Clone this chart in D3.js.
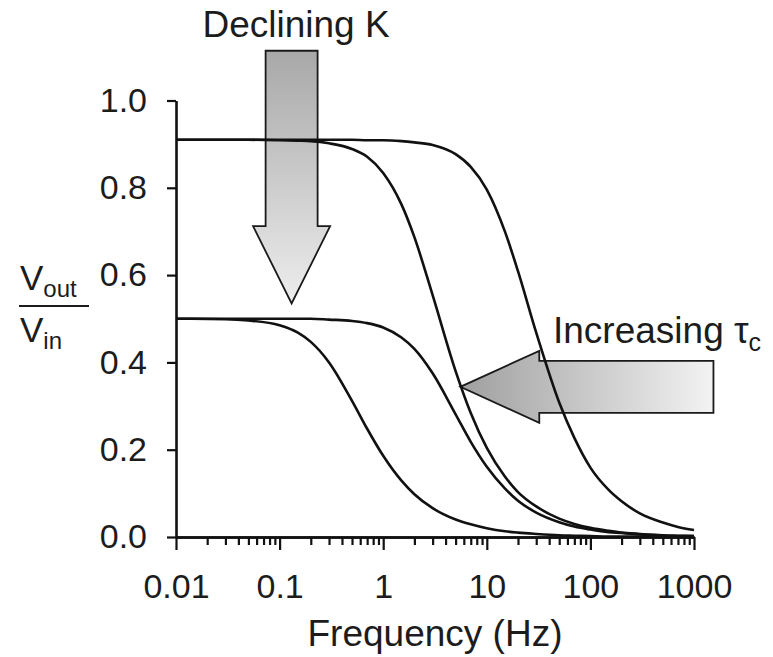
<!DOCTYPE html>
<html>
<head>
  <meta charset="utf-8"/>
  <title>Vout/Vin vs frequency</title>
  <style>
    body { margin: 0; background: #fff; }
    svg text { font-family: "Liberation Sans", Arial, sans-serif; fill: #1c1c1c; }
  </style>
</head>
<body>
    <div id="graph"></div>
</body>
<script src="https://d3js.org/d3.v7.min.js"></script>

<script>
    var freqs = [0.01, 0.03, 0.05, 0.1, 0.15, 0.2, 0.3, 0.5, 0.7, 1, 1.5, 2, 3, 5, 7,
                 10, 15, 20, 30, 50, 70, 100, 150, 200, 300, 500, 700, 1000];
    // K high, shortest tau (rightmost curve)
    var highK_short = [0.910, 0.910, 0.910, 0.910, 0.910, 0.910, 0.910, 0.910, 0.909, 0.909, 0.907, 0.904, 0.898, 0.877, 0.848,
                       0.796, 0.699, 0.609, 0.468, 0.308, 0.227, 0.159, 0.108, 0.082, 0.054, 0.033, 0.023, 0.016];
    // K high, longer tau
    var highK_long = [0.910, 0.910, 0.910, 0.909, 0.908, 0.907, 0.902, 0.889, 0.871, 0.834, 0.762, 0.687, 0.554, 0.380, 0.284,
                      0.204, 0.138, 0.103, 0.070, 0.042, 0.030, 0.021, 0.014, 0.010, 0.007, 0.004, 0.003, 0.002];
    // K low, shorter tau
    var lowK_short = [0.500, 0.500, 0.500, 0.500, 0.500, 0.500, 0.498, 0.495, 0.490, 0.480, 0.457, 0.431, 0.375, 0.281, 0.218,
                      0.161, 0.111, 0.083, 0.056, 0.034, 0.024, 0.017, 0.011, 0.009, 0.006, 0.003, 0.002, 0.002];
    // K low, longest tau (leftmost curve)
    var lowK_long = [0.500, 0.499, 0.496, 0.485, 0.468, 0.447, 0.400, 0.312, 0.248, 0.186, 0.129, 0.098, 0.066, 0.040, 0.029,
                     0.020, 0.013, 0.010, 0.007, 0.004, 0.003, 0.002, 0.001, 0.001, 0.001, 0.000, 0.000, 0.000];
    var seriesList = [highK_short, highK_long, lowK_short, lowK_long];

    var xTicks = [0.01, 0.1, 1, 10, 100, 1000];
    var xTickLabels = ["0.01", "0.1", "1", "10", "100", "1000"];
    var yTicks = [0, 0.2, 0.4, 0.6, 0.8, 1.0];

    var margin = {top: 100.5, right: 79, bottom: 120, left: 176},
        width = 773 - margin.left - margin.right,
        height = 657 - margin.top - margin.bottom;

    var x = d3.scaleLog().domain([0.01, 1000]).range([0, width]);
    var y = d3.scaleLinear().domain([0, 1]).range([height, 0]);

    var svg = d3.select("#graph").append("svg")
                .attr("width", 773)
                .attr("height", 657);
    var defs = svg.append("defs");
    var g = svg.append("g")
               .attr("transform", "translate(" + margin.left + "," + margin.top + ")");

    var gradDown = defs.append("linearGradient").attr("id", "gradDown")
        .attr("x1", 0).attr("y1", 0).attr("x2", 0).attr("y2", 1);
    gradDown.append("stop").attr("offset", "0%").attr("stop-color", "#a8a8a8");
    gradDown.append("stop").attr("offset", "100%").attr("stop-color", "#ededed");
    var gradLeft = defs.append("linearGradient").attr("id", "gradLeft")
        .attr("x1", 0).attr("y1", 0).attr("x2", 1).attr("y2", 0);
    gradLeft.append("stop").attr("offset", "0%").attr("stop-color", "#9f9f9f");
    gradLeft.append("stop").attr("offset", "100%").attr("stop-color", "#f3f3f3");

    // annotation arrows, anchored in data units
    var kArrow = {f: 0.1306, top: 1.114, neck: 0.712, tip: 0.535, shaft: 26, head: 38.5};
    var tauArrow = {tip: 5.55, neck: 32.1, tail: 1541, v: 0.344, shaft: 26, head: 36};

    var cx = x(kArrow.f);
    g.append("path")
        .attr("d", "M" + (cx - kArrow.shaft) + "," + y(kArrow.top) +
                   "H" + (cx + kArrow.shaft) + "V" + y(kArrow.neck) +
                   "H" + (cx + kArrow.head) + "L" + cx + "," + y(kArrow.tip) +
                   "L" + (cx - kArrow.head) + "," + y(kArrow.neck) +
                   "H" + (cx - kArrow.shaft) + "Z")
        .attr("fill", "url(#gradDown)")
        .attr("stroke", "#1a1a1a")
        .attr("stroke-width", 1.8)
        .attr("stroke-linejoin", "miter");

    var cy = y(tauArrow.v);
    g.append("path")
        .attr("d", "M" + x(tauArrow.tail) + "," + (cy - tauArrow.shaft) +
                   "H" + x(tauArrow.neck) + "V" + (cy - tauArrow.head) +
                   "L" + x(tauArrow.tip) + "," + cy +
                   "L" + x(tauArrow.neck) + "," + (cy + tauArrow.head) +
                   "V" + (cy + tauArrow.shaft) + "H" + x(tauArrow.tail) + "Z")
        .attr("fill", "url(#gradLeft)")
        .attr("stroke", "#1a1a1a")
        .attr("stroke-width", 1.8);

    // curves
    var line = d3.line()
        .x(function(d) { return x(d[0]); })
        .y(function(d) { return y(d[1]); })
        .curve(d3.curveMonotoneX);

    g.selectAll(".curve").data(seriesList).enter().append("path")
        .attr("class", "curve")
        .attr("d", function(vals) { return line(freqs.map(function(f, i) { return [f, vals[i]]; })); })
        .attr("fill", "none")
        .attr("stroke", "#111")
        .attr("stroke-width", 2.6);

    // axes
    var minor = [];
    xTicks.slice(0, -1).forEach(function(t) {
        for (var k = 2; k <= 9; k++) minor.push(t * k);
    });

    var xMinor = g.append("g").attr("transform", "translate(0," + height + ")")
        .call(d3.axisBottom(x).tickValues(minor).tickSize(8).tickSizeOuter(0).tickFormat(""));
    var xAxis = g.append("g").attr("transform", "translate(0," + height + ")")
        .call(d3.axisBottom(x).tickValues(xTicks).tickSize(13).tickSizeOuter(0).tickPadding(24)
              .tickFormat(function(d, i) { return xTickLabels[i]; }));
    var yAxis = g.append("g")
        .call(d3.axisLeft(y).tickValues(yTicks).tickSize(9).tickSizeOuter(0).tickPadding(20)
              .tickFormat(d3.format(".1f")));

    [xMinor, xAxis, yAxis].forEach(function(a) {
        a.select(".domain").attr("stroke", "#111").attr("stroke-width", 2.6);
        a.selectAll(".tick line").attr("stroke", "#111").attr("stroke-width", 2.2);
        a.selectAll("text").attr("font-size", 34).attr("fill", "#1c1c1c")
            .style("font-family", "'Liberation Sans', Arial, sans-serif");
    });

    // axis titles
    svg.append("text")
        .attr("x", 435).attr("y", 646)
        .attr("text-anchor", "middle")
        .attr("font-size", 37)
        .text("Frequency (Hz)");

    var yl = svg.append("g");
    var t1 = yl.append("text").attr("x", 20).attr("y", 290).attr("font-size", 35);
    t1.append("tspan").text("V");
    t1.append("tspan").attr("font-size", 24).attr("dy", 7).text("out");
    yl.append("line").attr("x1", 19).attr("x2", 89).attr("y1", 306).attr("y2", 306)
        .attr("stroke", "#1c1c1c").attr("stroke-width", 2.2);
    var t2 = yl.append("text").attr("x", 20).attr("y", 342).attr("font-size", 35);
    t2.append("tspan").text("V");
    t2.append("tspan").attr("font-size", 24).attr("dy", 7).text("in");

    // annotations
    svg.append("text")
        .attr("x", 296).attr("y", 37)
        .attr("text-anchor", "middle")
        .attr("font-size", 37)
        .text("Declining K");

    var t3 = svg.append("text").attr("x", 553).attr("y", 343).attr("font-size", 37);
    t3.append("tspan").text("Increasing \u03c4");
    t3.append("tspan").attr("font-size", 25).attr("dy", 8).text("c");
</script>
</html>
